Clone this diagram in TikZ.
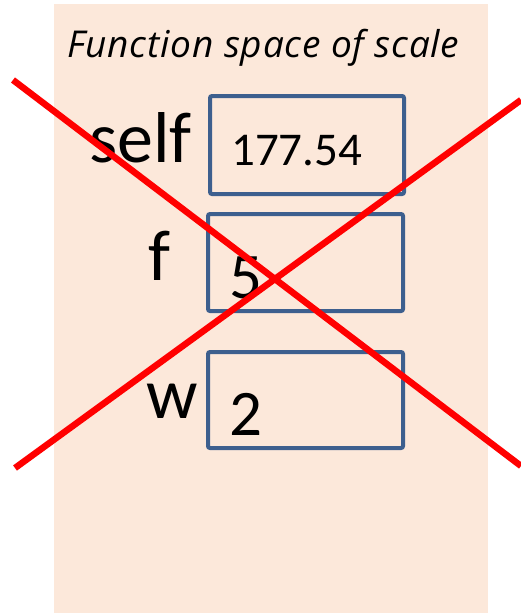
\documentclass[tikz,border=0pt]{standalone}
\usepackage{fontspec}
\setmainfont{Carlito}
\newfontfamily\titlefont[LetterSpace=2.2]{Open Sans}
\definecolor{peach}{HTML}{FCE8DA}
\definecolor{boxblue}{HTML}{3D5F8E}
\definecolor{xred}{HTML}{FF0000}
\begin{document}
\begin{tikzpicture}[x=1pt,y=-1pt,
  valbox/.style={draw=boxblue,line width=4pt,rounded corners=2pt},
  lbl/.style={anchor=base east,inner sep=0pt,font=\fontsize{72}{72}\selectfont},
  val/.style={anchor=base west,inner sep=0pt},
  cross/.style={draw=xred,line width=6.5pt}]
\useasboundingbox (0,0) rectangle (521,613);
\fill[peach] (54,4) rectangle (488,613);
\node[anchor=base west,inner sep=0pt,font=\titlefont\fontsize{37}{37}\selectfont\itshape] (title) at (67,57) {Function space of scale};
\draw[valbox] (210,96) rectangle (404,194);
\draw[valbox] (208,214) rectangle (403,311);
\draw[valbox] (208,352) rectangle (403,448);
\node[lbl] (self) at (192,162) {self};
\node[lbl] (f) at (171,280) {f};
\node[lbl] (w) at (198,418) {w};
\node[val,font=\fontsize{47}{47}\selectfont] (v1) at (231,165) {177.54};
\node[val,font=\fontsize{65}{65}\selectfont] (v2) at (229,298) {5};
\node[val,font=\fontsize{65}{65}\selectfont] (v3) at (229,435) {2};
\coordinate (a1) at (13,80);
\coordinate (a2) at (521,466);
\coordinate (c1) at (15,468);
\coordinate (c2) at (521,100);
\draw[cross] (a1) -- (a2);
\draw[cross] (c1) -- (c2);
\end{tikzpicture}
\end{document}
